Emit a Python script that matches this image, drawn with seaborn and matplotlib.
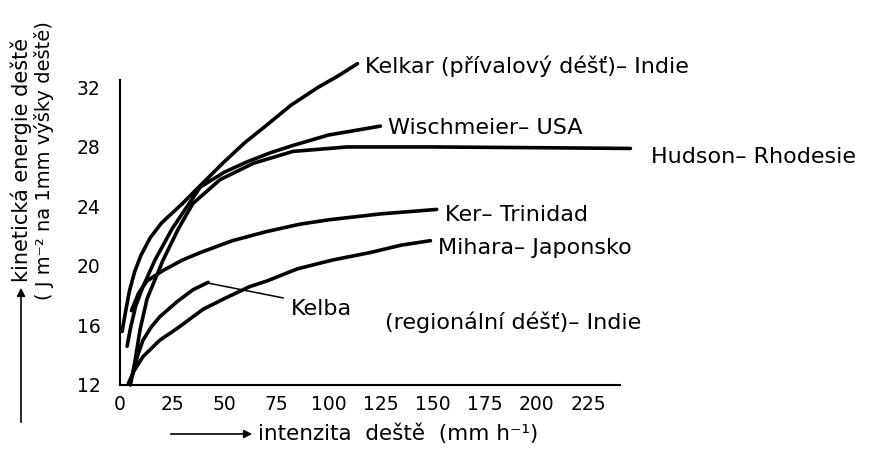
import numpy as np
import pandas as pd
import seaborn as sns
import matplotlib
matplotlib.use("Agg")
import matplotlib.pyplot as plt

# ---------------- data ----------------
kelkar_x = [1.0, 2.5, 4.5, 7, 10, 14.5, 20, 30, 38.5, 50, 60, 70.7, 82, 95, 105, 114]
kelkar_y = [15.6, 16.8, 18.3, 19.6, 20.7, 21.9, 22.9, 24.2, 25.4, 27.0, 28.3, 29.5, 30.8, 32.0, 32.8, 33.6]

wisch_x = [3.4, 5, 7.5, 11, 16.8, 25, 38.5, 50, 61, 72, 83, 100, 125]
wisch_y = [14.6, 15.8, 17.3, 18.6, 20.4, 22.5, 25.3, 26.3, 27.0, 27.6, 28.1, 28.8, 29.4]

hudson_x = [5, 7.2, 9.6, 13, 20.7, 28, 35, 48, 64, 83, 109, 150, 200, 245]
hudson_y = [12.0, 13.6, 15.7, 17.8, 20.4, 22.5, 24.2, 25.8, 26.9, 27.7, 28.0, 28.0, 27.95, 27.9]

ker_x = [5.5, 9, 13, 20.7, 30, 38.5, 54, 70, 86, 100, 125, 152]
ker_y = [17.0, 18.2, 19.0, 19.7, 20.4, 20.9, 21.7, 22.3, 22.8, 23.1, 23.5, 23.8]

mihara_x = [4.5, 6.5, 11, 19, 27.4, 40, 50, 62, 70.7, 85, 102, 120, 135, 149]
mihara_y = [12.1, 12.9, 13.9, 15.0, 15.8, 17.1, 17.8, 18.6, 19.0, 19.8, 20.4, 20.9, 21.4, 21.7]

kelba_x = [4, 6.3, 8.5, 11, 15, 19.2, 27.4, 35, 42.3]
kelba_y = [12.1, 12.8, 14.0, 15.0, 15.9, 16.6, 17.6, 18.4, 18.9]

series_names = ["Kelkar", "Wischmeier", "Hudson", "Ker", "Mihara", "Kelba"]
series_x = [kelkar_x, wisch_x, hudson_x, ker_x, mihara_x, kelba_x]
series_y = [kelkar_y, wisch_y, hudson_y, ker_y, mihara_y, kelba_y]

x_ticks = [0, 25, 50, 75, 100, 125, 150, 175, 200, 225]
y_ticks = [12, 16, 20, 24, 28, 32]

labels = {
    "Kelkar": ("Kelkar (přívalový déšť)– Indie", 117.8, 33.4),
    "Wischmeier": ("Wischmeier– USA", 128.8, 29.3),
    "Hudson": ("Hudson– Rhodesie", 254.8, 27.3),
    "Ker": ("Ker– Trinidad", 156.0, 23.4),
    "Mihara": ("Mihara– Japonsko", 152.4, 21.2),
    "Kelba1": ("Kelba", 82.2, 17.1),
    "Kelba2": ("(regionální déšť)– Indie", 127.4, 16.2),
}

# ---------------- build table ----------------
rows = []
for name, xs, ys in zip(series_names, series_x, series_y):
    for xv, yv in zip(xs, ys):
        rows.append({"zdroj": name, "intenzita": xv, "energie": yv})
df = pd.DataFrame(rows)

sns.set_style("white")
plt.rcParams["font.family"] = ["DejaVu Sans"]
plt.rcParams["text.color"] = "black"
plt.rcParams["axes.labelcolor"] = "black"
plt.rcParams["xtick.color"] = "black"
plt.rcParams["ytick.color"] = "black"

fig = plt.figure(figsize=(8.72, 4.63), dpi=100)
ax = fig.add_axes([120 / 872, 78 / 463, 500 / 872, 305 / 463])

sns.lineplot(data=df, x="intenzita", y="energie", hue="zdroj",
             palette={n: "black" for n in series_names},
             estimator=None, sort=False, legend=False, lw=2.6, ax=ax)
for ln in ax.lines:
    ln.set_clip_on(False)
    ln.set_solid_capstyle("round")
    ln.set_solid_joinstyle("round")

ax.set_xlim(0, 240)
ax.set_ylim(12, 32.5)
ax.set_xticks(x_ticks)
ax.set_yticks(y_ticks)
ax.tick_params(axis="both", direction="in", length=8, width=1.3, colors="black",
               labelsize=13.5)
ax.tick_params(axis="y", pad=14)
ax.tick_params(axis="x", pad=7)
for s in ["top", "right"]:
    ax.spines[s].set_visible(False)
for s in ["left", "bottom"]:
    ax.spines[s].set_linewidth(1.5)
    ax.spines[s].set_color("black")
ax.set_xlabel("")
ax.set_ylabel("")

# series labels
for key, (txt, tx, ty) in labels.items():
    ax.text(tx, ty, txt, fontsize=16, ha="left", va="center", clip_on=False,
            color="black")

# leader line for Kelba
ax.plot([42.3, 78.4], [18.85, 17.85], color="black", lw=1.1, clip_on=False)

# x-axis title with arrow
fig.add_artist(matplotlib.patches.FancyArrowPatch(
    (168 / 872, 1 - 434 / 463), (255 / 872, 1 - 434 / 463),
    transform=fig.transFigure, arrowstyle="-|>", mutation_scale=12, lw=1.2, color="black"))
fig.text(258 / 872, 1 - 434 / 463, "intenzita  deště  (mm h⁻¹)", fontsize=15.5,
         ha="left", va="center", color="black")

# y-axis title with arrow
fig.add_artist(matplotlib.patches.FancyArrowPatch(
    (21 / 872, 1 - 425 / 463), (21 / 872, 1 - 285 / 463),
    transform=fig.transFigure, arrowstyle="-|>", mutation_scale=12, lw=1.2, color="black"))
fig.text(21 / 872, 1 - 282 / 463, "kinetická energie deště", fontsize=15,
         rotation=90, ha="center", va="bottom", color="black")
fig.text(44 / 872, 1 - 300 / 463, "( J m⁻² na 1mm výšky deště)", fontsize=14,
         rotation=90, ha="center", va="bottom", color="black")

fig.savefig("out.png", dpi=100)
